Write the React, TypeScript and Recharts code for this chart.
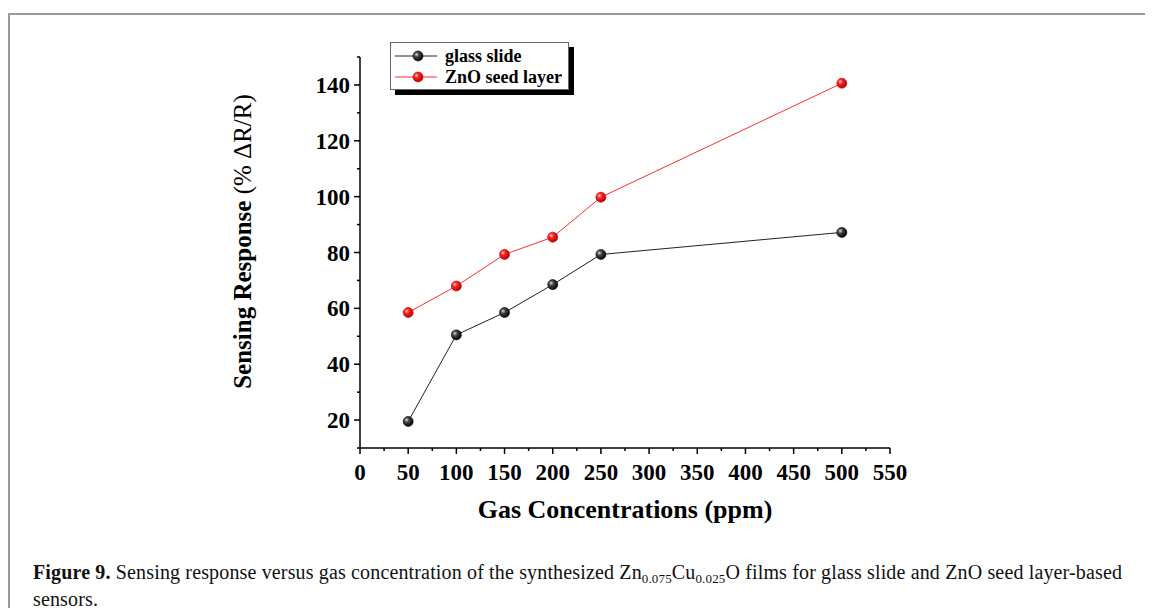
import React from "react";
import { LineChart, Line, XAxis, YAxis } from "recharts";

const CONCENTRATIONS = [50, 100, 150, 200, 250, 500];
const GLASS_SLIDE = [19.5, 50.5, 58.5, 68.5, 79.3, 87.2];
const ZNO_SEED = [58.5, 68.0, 79.3, 85.5, 99.8, 140.6];

const X_TICKS = [0, 25, 50, 75, 100, 125, 150, 175, 200, 225, 250, 275, 300, 325, 350, 375, 400, 425, 450, 475, 500, 525, 550];
const Y_TICKS = [10, 20, 30, 40, 50, 60, 70, 80, 90, 100, 110, 120, 130, 140, 150];
const X_LABELED = [0, 50, 100, 150, 200, 250, 300, 350, 400, 450, 500, 550];
const Y_LABELED = [20, 40, 60, 80, 100, 120, 140];

const SERIES = [
  { key: "glass", name: "glass slide", stroke: "#222222", grad: "ballBlack" },
  { key: "zno", name: "ZnO seed layer", stroke: "#ff2b2b", grad: "ballRed" },
];

const data = CONCENTRATIONS.map((c, i) => ({ conc: c, glass: GLASS_SLIDE[i], zno: ZNO_SEED[i] }));

const SERIF = "'Liberation Serif', 'DejaVu Serif', serif";

function XTick(props: any) {
  const { x, y, payload } = props;
  const major = X_LABELED.includes(payload.value);
  return (
    <g>
      <line x1={x} x2={x} y1={y} y2={y + (major ? 6 : 3)} stroke="#000" strokeWidth={1.5} />
      {major && (
        <text x={x} y={y + 32} textAnchor="middle" fontFamily={SERIF} fontWeight="bold" fontSize={23} fill="#000">
          {payload.value}
        </text>
      )}
    </g>
  );
}

function YTick(props: any) {
  const { x, y, payload } = props;
  const major = Y_LABELED.includes(payload.value);
  return (
    <g>
      <line x1={x} x2={x - (major ? 6 : 3)} y1={y} y2={y} stroke="#000" strokeWidth={1.5} />
      {major && (
        <text x={x - 10} y={y + 8} textAnchor="end" fontFamily={SERIF} fontWeight="bold" fontSize={23} fill="#000">
          {payload.value}
        </text>
      )}
    </g>
  );
}

function Ball({ cx, cy, grad }: { cx: number; cy: number; grad: string }) {
  return <circle cx={cx} cy={cy} r={5} fill={`url(#${grad})`} stroke={grad === "ballRed" ? "#c00000" : "#000"} strokeWidth={0.6} />;
}

function YTitle(props: any) {
  const vb = props.viewBox;
  const cx = vb.x - 58;
  const cy = vb.y + vb.height / 2 - 11;
  return (
    <text
      x={cx}
      y={cy}
      transform={`rotate(-90, ${cx}, ${cy})`}
      textAnchor="middle"
      dominantBaseline="central"
      fontFamily={SERIF}
      fontSize={25}
      fill="#000"
    >
      <tspan fontWeight="bold">Sensing Response </tspan>
      <tspan>(% ΔR/R)</tspan>
    </text>
  );
}

function XTitle(props: any) {
  const vb = props.viewBox;
  return (
    <text x={vb.x + vb.width / 2} y={vb.y + 70} textAnchor="middle" fontFamily={SERIF} fontWeight="bold" fontSize={26} fill="#000">
      Gas Concentrations (ppm)
    </text>
  );
}

function LegendBox() {
  return (
    <div
      style={{
        position: "absolute",
        left: 382,
        top: 34,
        width: 177,
        height: 46,
        border: "1px solid #666",
        background: "#fff",
        boxShadow: "5px 5px 0 #000",
        fontFamily: SERIF,
        fontWeight: "bold",
        fontSize: 18,
      }}
    >
      {SERIES.map((s, i) => (
        <div key={s.key} style={{ position: "absolute", left: 0, top: 3 + i * 21, height: 20, display: "flex", alignItems: "center" }}>
          <svg width={52} height={20}>
            <line x1={4} x2={46} y1={10} y2={10} stroke={s.stroke} strokeWidth={1} />
            <Ball cx={27} cy={10} grad={s.grad} />
          </svg>
          <span style={{ marginLeft: 2, lineHeight: "20px", whiteSpace: "nowrap" }}>{s.name}</span>
        </div>
      ))}
    </div>
  );
}

const subStyle: React.CSSProperties = { fontSize: 13, verticalAlign: "baseline", position: "relative", top: 4 };

export default function App() {
  return (
    <div style={{ position: "relative", width: 1145, height: 608, marginBottom: -8, overflow: "hidden", background: "#fff" }}>
      <div
        style={{
          position: "absolute",
          left: 0,
          top: 5,
          width: 1145,
          height: 610,
          borderTop: "2px solid #9a9a9a",
          borderLeft: "2px solid #9a9a9a",
        }}
      />
      <div style={{ position: "absolute", left: 0, top: 0 }}>
        <LineChart width={1145} height={540} data={data} margin={{ top: 49, right: 263, bottom: 40, left: 292 }}>
          <defs>
            <radialGradient id="ballBlack" cx="35%" cy="35%" r="70%">
              <stop offset="0%" stopColor="#d8d8d8" />
              <stop offset="35%" stopColor="#444" />
              <stop offset="100%" stopColor="#000" />
            </radialGradient>
            <radialGradient id="ballRed" cx="35%" cy="35%" r="70%">
              <stop offset="0%" stopColor="#ffd0d0" />
              <stop offset="35%" stopColor="#ff2020" />
              <stop offset="100%" stopColor="#b00000" />
            </radialGradient>
          </defs>
          <XAxis
            dataKey="conc"
            type="number"
            domain={[0, 550]}
            ticks={X_TICKS}
            interval={0}
            height={60}
            tickLine={false}
            tickSize={0}
            tickMargin={0}
            tick={<XTick />}
            axisLine={{ stroke: "#000", strokeWidth: 1.5 }}
            label={<XTitle />}
          />
          <YAxis
            type="number"
            domain={[10, 150]}
            ticks={Y_TICKS}
            interval={0}
            width={60}
            tickLine={false}
            tickSize={0}
            tickMargin={0}
            tick={<YTick />}
            axisLine={{ stroke: "#000", strokeWidth: 1.5 }}
            label={<YTitle />}
          />
          {SERIES.map((s) => (
            <Line
              key={s.key}
              dataKey={s.key}
              name={s.name}
              type="linear"
              stroke={s.stroke}
              strokeWidth={1}
              isAnimationActive={false}
              dot={(p: any) => <Ball key={`${s.key}-${p.index}`} cx={p.cx} cy={p.cy} grad={s.grad} />}
              activeDot={false}
            />
          ))}
        </LineChart>
      </div>
      <LegendBox />
      <div
        style={{
          position: "absolute",
          left: 25,
          top: 552,
          fontFamily: SERIF,
          fontSize: 20,
          letterSpacing: 0.15,
          lineHeight: "25px",
          whiteSpace: "nowrap",
          color: "#111",
        }}
      >
        <b>Figure 9.</b> Sensing response versus gas concentration of the synthesized Zn<sub style={subStyle}>0.075</sub>Cu
        <sub style={subStyle}>0.025</sub>O films for glass slide and ZnO seed layer-based
        <br />
        sensors.
      </div>
    </div>
  );
}
